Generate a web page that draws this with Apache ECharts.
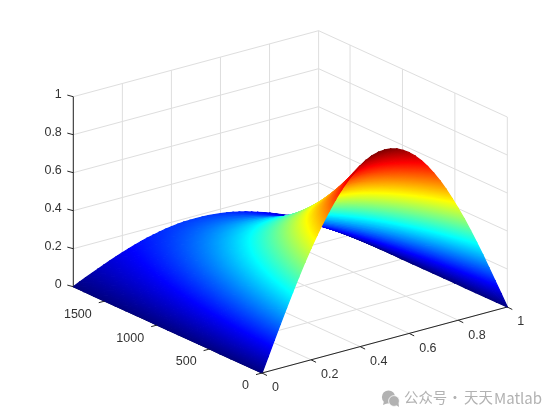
<!DOCTYPE html>
<html>
<head>
<meta charset="utf-8">
<style>html,body{margin:0;padding:0;background:#fff}#main{width:560px;height:420px}</style>
<script src="https://cdn.jsdelivr.net/npm/echarts@6/dist/echarts.min.js"></script>
</head>
<body>
<div id="main"></div>
<script>
// ---- data ----
const xValues = [0,.025,.05,.075,.1,.125,.15,.175,.2,.225,.25,.275,.3,.325,.35,.375,.4,.425,.45,.475,.5,
  .525,.55,.575,.6,.625,.65,.675,.7,.725,.75,.775,.8,.825,.85,.875,.9,.925,.95,.975,1];
const yValues = [0,100,200,300,400,500,600,700,800,900,1000,1100,1200,1300,1400,1500,1600,1700,1800];
// height at x = 0 ... 0.5 for each y; the surface is mirror-symmetric about x = 0.5
const zLeftHalf = [
 [0,.078,.156,.233,.309,.383,.454,.523,.588,.649,.707,.760,.809,.853,.891,.924,.951,.972,.988,.997,1],
 [0,.071,.142,.213,.281,.348,.413,.476,.535,.591,.644,.692,.737,.776,.811,.841,.866,.885,.899,.908,.911],
 [0,.065,.130,.193,.256,.317,.376,.433,.487,.538,.586,.630,.671,.707,.739,.766,.788,.806,.819,.826,.829],
 [0,.059,.118,.176,.233,.289,.343,.394,.444,.490,.534,.574,.611,.644,.673,.697,.718,.734,.746,.752,.755],
 [0,.054,.107,.160,.212,.263,.312,.359,.404,.446,.486,.523,.556,.586,.612,.635,.654,.668,.679,.685,.687],
 [0,.049,.098,.146,.193,.239,.284,.327,.368,.406,.442,.476,.506,.533,.557,.578,.595,.608,.618,.624,.626],
 [0,.045,.089,.133,.176,.218,.259,.298,.335,.370,.403,.433,.461,.486,.508,.526,.542,.554,.563,.568,.570],
 [0,.041,.081,.121,.160,.199,.235,.271,.305,.337,.367,.394,.420,.442,.462,.479,.493,.504,.512,.517,.519],
 [0,.037,.074,.110,.146,.181,.214,.247,.278,.307,.334,.359,.382,.403,.421,.436,.449,.459,.466,.471,.472],
 [0,.034,.067,.100,.133,.165,.195,.225,.253,.279,.304,.327,.348,.367,.383,.397,.409,.418,.425,.429,.430],
 [0,.031,.061,.091,.121,.150,.178,.205,.230,.254,.277,.298,.317,.334,.349,.362,.372,.381,.387,.390,.392],
 [0,.028,.056,.083,.110,.136,.162,.186,.210,.232,.252,.271,.288,.304,.318,.329,.339,.347,.352,.355,.357],
 [0,.025,.051,.076,.100,.124,.147,.170,.191,.211,.230,.247,.263,.277,.289,.300,.309,.316,.321,.324,.325],
 [0,.023,.046,.069,.091,.113,.134,.154,.174,.192,.209,.225,.239,.252,.263,.273,.281,.287,.292,.295,.296],
 [0,.021,.042,.063,.083,.103,.122,.141,.158,.175,.190,.205,.218,.229,.240,.249,.256,.262,.266,.268,.269],
 [0,.019,.038,.057,.076,.094,.111,.128,.144,.159,.173,.186,.198,.209,.218,.226,.233,.238,.242,.244,.245],
 [0,.018,.035,.052,.069,.085,.101,.117,.131,.145,.158,.170,.180,.190,.199,.206,.212,.217,.220,.222,.223],
 [0,.016,.032,.047,.063,.078,.092,.106,.119,.132,.144,.154,.164,.173,.181,.188,.193,.197,.201,.202,.203],
 [0,.015,.029,.043,.057,.071,.084,.097,.109,.120,.131,.141,.150,.158,.165,.171,.176,.180,.183,.184,.185]
];
const xTicks = [0,0.2,0.4,0.6,0.8,1];
const yTicks = [0,500,1000,1500];
const zTicks = [0,0.2,0.4,0.6,0.8,1];
const watermarkParts = ['公众号', '·', '天天', 'Matlab'];

const zTable = zLeftHalf.map(function (row) {
  return row.concat(row.slice(0, -1).reverse());
});

// ---- view of the 3D box on the page plane ----
const xMax = 1, yMax = 1800, zMax = 1;
const origin = [262, 373];
const xDir = [245.3, -66];
const yDir = [-188.7, -86.3];
const zDir = [0, -190];
function project(x, y, z) {
  const a = x / xMax, b = y / yMax, c = z / zMax;
  return [
    origin[0] + a * xDir[0] + b * yDir[0] + c * zDir[0],
    origin[1] + a * xDir[1] + b * yDir[1] + c * zDir[1]
  ];
}
function clamp01(v) { return Math.max(0, Math.min(1, v)); }
function jet(v) {
  const r = clamp01(Math.min(4 * v - 1.5, -4 * v + 4.5));
  const g = clamp01(Math.min(4 * v - 0.5, -4 * v + 3.5));
  const b = clamp01(Math.min(4 * v + 0.5, -4 * v + 2.5));
  return 'rgb(' + Math.round(r * 255) + ',' + Math.round(g * 255) + ',' + Math.round(b * 255) + ')';
}
const jetBreaks = [0.125, 0.375, 0.625, 0.875];

// colour follows z linearly across each triangle
function triangleFill(p, z) {
  const lo = Math.min(z[0], z[1], z[2]), hi = Math.max(z[0], z[1], z[2]);
  const d1 = [p[1][0] - p[0][0], p[1][1] - p[0][1]];
  const d2 = [p[2][0] - p[0][0], p[2][1] - p[0][1]];
  const det = d1[0] * d2[1] - d1[1] * d2[0];
  if (hi - lo < 1e-5 || Math.abs(det) < 0.02) return jet((lo + hi) / 2);
  const dz1 = z[1] - z[0], dz2 = z[2] - z[0];
  const gx = (dz1 * d2[1] - dz2 * d1[1]) / det;
  const gy = (d1[0] * dz2 - d2[0] * dz1) / det;
  const g2 = gx * gx + gy * gy;
  const iLo = z.indexOf(lo);
  const sx = p[iLo][0], sy = p[iLo][1];
  const k = (hi - lo) / g2;
  const stops = [{ offset: 0, color: jet(lo) }];
  jetBreaks.forEach(function (b) {
    if (b > lo && b < hi) stops.push({ offset: (b - lo) / (hi - lo), color: jet(b) });
  });
  stops.push({ offset: 1, color: jet(hi) });
  return new echarts.graphic.LinearGradient(sx, sy, sx + gx * k, sy + gy * k, stops, true);
}

// ---- series data built from the arrays ----
const triangles = [];
for (let j = yValues.length - 2; j >= 0; j--) {
  for (let i = xValues.length - 2; i >= 0; i--) {
    triangles.push([i + 1, j, i + 1, j + 1, i, j + 1]);
    triangles.push([i, j, i + 1, j, i, j + 1]);
  }
}
const gridSegments = [];
zTicks.forEach(function (z) {
  gridSegments.push([0, yMax, z, xMax, yMax, z]);
  gridSegments.push([xMax, yMax, z, xMax, 0, z]);
});
xTicks.forEach(function (x) {
  gridSegments.push([x, yMax, 0, x, yMax, zMax]);
  gridSegments.push([x, 0, 0, x, yMax, 0]);
});
yTicks.forEach(function (y) {
  gridSegments.push([xMax, y, 0, xMax, y, zMax]);
  gridSegments.push([0, y, 0, xMax, y, 0]);
});
const axisSegments = [
  [0, yMax, 0, 0, yMax, zMax],
  [0, 0, 0, xMax, 0, 0],
  [0, 0, 0, 0, yMax, 0]
];
const tickMarks = [];
const tickLabels = [];
zTicks.forEach(function (z) {
  tickMarks.push({ from: [0, yMax, z], d: [-6, -1.6] });
  tickLabels.push({ at: [0, yMax, z], d: [-11.5, -2.6], text: String(z), align: 'right' });
});
xTicks.forEach(function (x) {
  tickMarks.push({ from: [x, 0, 0], d: [5, 2.5] });
  tickLabels.push({ at: [x, 0, 0], d: [10, 15], text: String(x), align: 'left' });
});
yTicks.forEach(function (y) {
  tickMarks.push({ from: [0, y, 0], d: [-6, 1.6] });
  tickLabels.push({ at: [0, y, 0], d: [-13, 13], text: String(y), align: 'right' });
});

function lineSeries(data, color, width, z) {
  return {
    type: 'custom', coordinateSystem: 'cartesian2d', data: data, z: z,
    silent: true, clip: false, animation: false,
    encode: { x: [], y: [] },
    renderItem: function (params, api) {
      const s = data[params.dataIndex];
      const a = api.coord(project(s[0], s[1], s[2]));
      const b = api.coord(project(s[3], s[4], s[5]));
      return { type: 'line', shape: { x1: a[0], y1: a[1], x2: b[0], y2: b[1] },
               style: { stroke: color, lineWidth: width, fill: null } };
    }
  };
}

const watermarkFont = '14.4px "Noto Sans CJK SC", sans-serif';
const watermarkColor = '#b2b2b2';
const option = {
  backgroundColor: '#ffffff',
  animation: false,
  tooltip: { show: false },
  grid: { left: 0, right: 0, top: 0, bottom: 0 },
  xAxis: { type: 'value', min: 0, max: 560, show: false },
  yAxis: { type: 'value', min: 0, max: 420, inverse: true, show: false },
  series: [
    lineSeries(gridSegments, '#dedede', 1, 1),
    lineSeries(axisSegments, '#262626', 1, 2),
    {
      type: 'custom', coordinateSystem: 'cartesian2d', data: triangles, z: 3,
      silent: true, clip: false, animation: false, progressive: 0,
      encode: { x: [], y: [] },
      renderItem: function (params, api) {
        const t = triangles[params.dataIndex];
        const pts = [], zs = [];
        for (let k = 0; k < 6; k += 2) {
          const zv = zTable[t[k + 1]][t[k]];
          pts.push(api.coord(project(xValues[t[k]], yValues[t[k + 1]], zv)));
          zs.push(zv);
        }
        const fill = triangleFill(pts, zs);
        return { type: 'polygon', shape: { points: pts },
                 style: { fill: fill, stroke: fill, lineWidth: 1.3, lineJoin: 'round' } };
      }
    },
    {
      type: 'custom', coordinateSystem: 'cartesian2d', data: tickMarks, z: 4,
      silent: true, clip: false, animation: false,
      encode: { x: [], y: [] },
      renderItem: function (params, api) {
        const m = tickMarks[params.dataIndex];
        const a = api.coord(project(m.from[0], m.from[1], m.from[2]));
        return { type: 'line', shape: { x1: a[0], y1: a[1], x2: a[0] + m.d[0], y2: a[1] + m.d[1] },
                 style: { stroke: '#262626', lineWidth: 1, fill: null } };
      }
    },
    {
      type: 'custom', coordinateSystem: 'cartesian2d', data: tickLabels, z: 5,
      silent: true, clip: false, animation: false,
      encode: { x: [], y: [] },
      renderItem: function (params, api) {
        const m = tickLabels[params.dataIndex];
        const a = api.coord(project(m.at[0], m.at[1], m.at[2]));
        return { type: 'text', x: a[0] + m.d[0], y: a[1] + m.d[1],
                 style: { text: m.text, fill: '#333333', align: m.align, verticalAlign: 'middle',
                          font: '12.5px "Liberation Sans", Arial, sans-serif' } };
      }
    }
  ],
  graphic: [
    { type: 'circle', shape: { cx: 388.5, cy: 397, r: 6.6 }, style: { fill: watermarkColor }, z: 10 },
    { type: 'polygon', shape: { points: [[384, 401], [383, 405], [388, 403]] }, style: { fill: watermarkColor }, z: 10 },
    { type: 'circle', shape: { cx: 394, cy: 401, r: 5.4 }, style: { fill: watermarkColor, stroke: '#ffffff', lineWidth: 0.8 }, z: 11 },
    { type: 'polygon', shape: { points: [[396, 405], [399, 407], [398.5, 403]] }, style: { fill: watermarkColor }, z: 11 },
    { type: 'text', x: 404, y: 398, z: 12,
      style: { text: watermarkParts[0], fill: watermarkColor, verticalAlign: 'middle', align: 'left', font: watermarkFont } },
    { type: 'text', x: 455, y: 398, z: 12,
      style: { text: watermarkParts[1], fill: watermarkColor, verticalAlign: 'middle', align: 'center', font: watermarkFont } },
    { type: 'text', x: 464, y: 398, z: 12,
      style: { text: watermarkParts[2], fill: watermarkColor, verticalAlign: 'middle', align: 'left', font: watermarkFont } },
    { type: 'text', x: 494, y: 398, z: 12,
      style: { text: watermarkParts[3], fill: watermarkColor, verticalAlign: 'middle', align: 'left',
               font: '15px "Noto Sans CJK SC", sans-serif' } }
  ]
};
const chart = echarts.init(document.getElementById('main'), null, { renderer: 'canvas', width: 560, height: 420 });
chart.setOption(option);
</script>
</body>
</html>
